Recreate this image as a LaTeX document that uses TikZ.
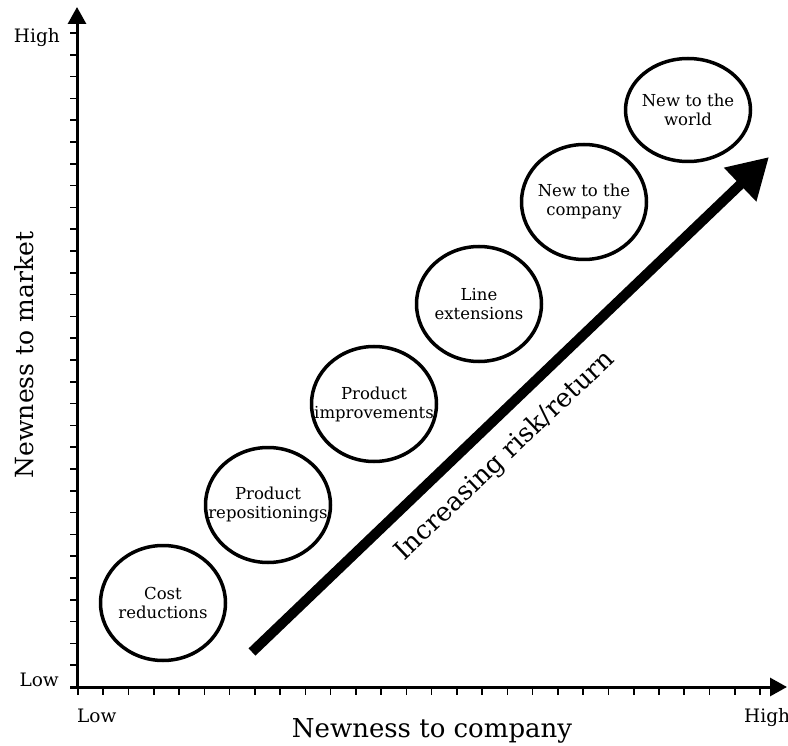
\documentclass[tikz,border=0pt]{standalone}
\usepackage{fontspec}
\setmainfont{DejaVu Serif}
\usetikzlibrary{arrows.meta,shapes.geometric}

\begin{document}
\begin{tikzpicture}[
  x=1pt, y=-1pt,
  axisline/.style={line width=3pt, -{Triangle[length=17pt, width=18pt]}},
  tickmark/.style={line width=1.6pt},
  leveltext/.style={align=center, inner sep=0pt, font=\fontsize{16.5}{19}\selectfont},
  levelnode/.style={draw, ellipse, line width=3.5pt, minimum width=125pt, minimum height=115pt,
                    inner sep=0pt, label={[leveltext]center:#1}},
  endlabel/.style={font=\fontsize{18.5}{20}\selectfont, inner sep=0pt},
  axistitle/.style={font=\fontsize{26}{28}\selectfont, inner sep=0pt},
  riskarrow/.style={line width=10pt, -{Triangle[length=40pt, width=44pt]}},
]
\useasboundingbox (0,0) rectangle (788,746);

% Axes
\coordinate (O)    at (77,687);
\coordinate (YTOP) at (77,7);
\coordinate (XEND) at (787,687);
\coordinate (XST)  at (70,687);
\draw[axisline] (XST) -- (XEND);
\draw[axisline] (O) -- (YTOP);
\foreach \k in {0,...,30}
  \draw[tickmark] (70,687-21.8*\k) -- (77,687-21.8*\k);
\foreach \k in {0,...,27}
  \draw[tickmark] (78+25.26*\k,687) -- (78+25.26*\k,695);

% Axis labels
\node[endlabel, anchor=base east] (YHI) at (60,43)  {High};
\node[endlabel, anchor=base east] (YLO) at (59,686) {Low};
\node[endlabel, anchor=base west] (XLO) at (77,722) {Low};
\node[endlabel, anchor=base west] (XHI) at (744,722) {High};
\node[axistitle, anchor=base] (XTTL) at (432,737) {Newness to company};
\node[axistitle, anchor=base, rotate=90, font=\fontsize{25}{27}\selectfont] (YTTL) at (33,355) {Newness to market};

% Levels of newness
\node[levelnode={Cost\\reductions}] (COST) at (163,603) {};
\node[levelnode={Product\\repositionings}] (REPO) at (268,505) {};
\node[levelnode={Product\\improvements}] (IMPR) at (374,404) {};
\node[levelnode={Line\\extensions}] (LINE) at (479,304) {};
\node[levelnode={New to the\\company}] (COMP) at (584,202) {};
\node[levelnode={New to the\\world}, minimum height=103pt] (WRLD) at (688,110) {};

% Risk/return arrow
\coordinate (RTAIL) at (252,652);
\coordinate (RHEAD) at (769,157);
\draw[riskarrow] (RTAIL) -- (RHEAD);
\node[axistitle, rotate=43.5] (RISK) at (505,456) {Increasing risk/return};

\end{tikzpicture}
\end{document}
